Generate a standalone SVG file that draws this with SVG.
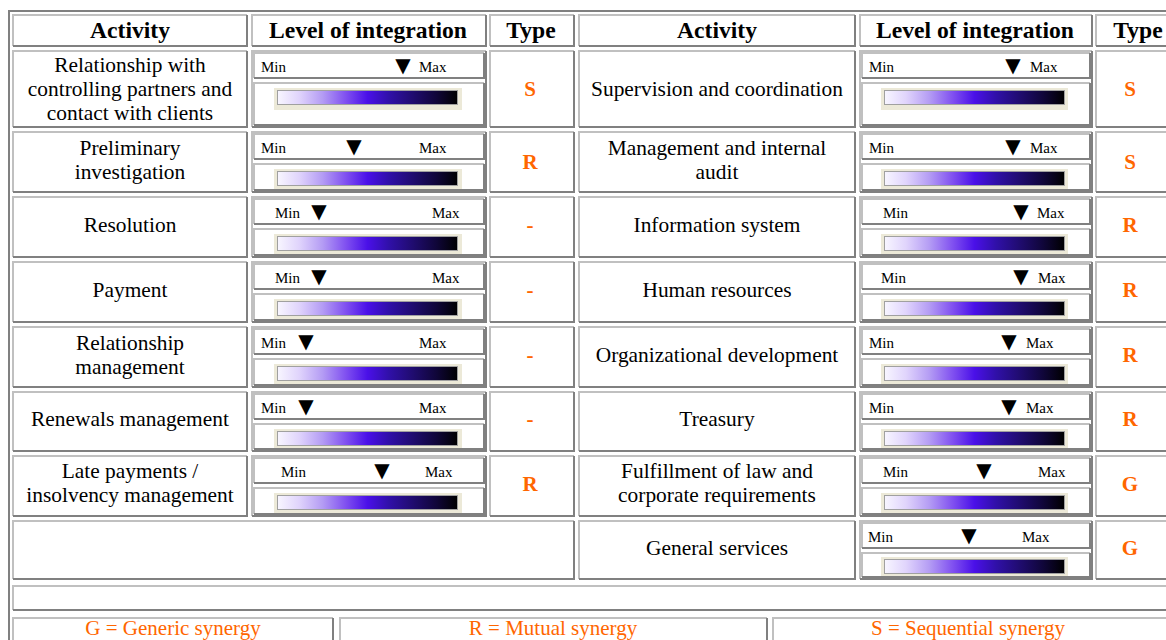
<svg xmlns="http://www.w3.org/2000/svg" width="1166" height="640" viewBox="0 0 1166 640">
<defs>
<linearGradient id="grad" x1="0" y1="0" x2="1" y2="0">
<stop offset="0" stop-color="#f8f6ff"/>
<stop offset="0.12" stop-color="#e0d4fc"/>
<stop offset="0.25" stop-color="#b49cf4"/>
<stop offset="0.38" stop-color="#8050f0"/>
<stop offset="0.5" stop-color="#4a10e8"/>
<stop offset="0.62" stop-color="#3010a8"/>
<stop offset="0.75" stop-color="#200c70"/>
<stop offset="0.88" stop-color="#10063a"/>
<stop offset="1" stop-color="#000000"/>
</linearGradient>
<style>
.lt{stroke:#c0c0c0;stroke-width:2;fill:none}
.dk{stroke:#808080;stroke-width:2;fill:none}
.h{font-family:"Liberation Serif",serif;font-weight:bold;font-size:23.6px;text-anchor:middle;fill:#000}
.a{font-family:"Liberation Serif",serif;font-size:21.4px;text-anchor:middle;fill:#000}
.m{font-family:"Liberation Serif",serif;font-size:15px;fill:#000}
.tri{font-family:"DejaVu Sans",sans-serif;font-size:20px;text-anchor:middle;fill:#000}
.t{font-family:"Liberation Serif",serif;font-weight:bold;font-size:21px;fill:#ff6600;text-anchor:middle}
.g{font-family:"Liberation Serif",serif;font-size:21px;fill:#ff6600;text-anchor:middle}
.fr{fill:#ece9d8}
.gb{fill:url(#grad);stroke:#a0a0a0;stroke-width:1}
</style>
</defs>
<rect width="1166" height="640" fill="#ffffff"/>
<g id="table-frame"><path class="dk" d="M9 640V11H1166"/></g>

<g id="header">
<g id="h1"><path class="lt" d="M13 46V15H247"/><path class="dk" d="M13 46H247V15"/><text class="h" x="130" y="38">Activity</text></g>
<g id="h2"><path class="lt" d="M252 46V15H486"/><path class="dk" d="M252 46H486V15"/><text class="h" x="368" y="38">Level of integration</text></g>
<g id="h3"><path class="lt" d="M490 46V15H574"/><path class="dk" d="M490 46H574V15"/><text class="h" x="531" y="38">Type</text></g>
<g id="h4"><path class="lt" d="M579 46V15H855"/><path class="dk" d="M579 46H855V15"/><text class="h" x="717" y="38">Activity</text></g>
<g id="h5"><path class="lt" d="M860 46V15H1092"/><path class="dk" d="M860 46H1092V15"/><text class="h" x="975" y="38">Level of integration</text></g>
<g id="h6"><path class="lt" d="M1096 46V15H1179"/><path class="dk" d="M1096 46H1179V15"/><text class="h" x="1138" y="38">Type</text></g>
</g>

<g id="connectors"></g>

<!-- Row 1 -->
<g id="l1">
<g id="l1-act"><path class="lt" d="M13 127V51H247"/><path class="dk" d="M13 127H247V51"/>
<text class="a" x="130" y="72">Relationship with</text><text class="a" x="130" y="96">controlling partners and</text><text class="a" x="130" y="120">contact with clients</text></g>
<g id="l1-lvl"><path class="lt" d="M252 127V51H486"/><path class="dk" d="M252 127H486V51"/>
<path class="lt" d="M254 78V53H484"/><path class="dk" d="M254 78H484V53"/>
<path class="lt" d="M254 125V83H484"/><path class="dk" d="M254 125H484V83"/>
<rect class="fr" x="274" y="88" width="188" height="22"/><rect class="gb" x="277.5" y="90.5" width="180" height="14"/>
<text class="m" x="261" y="72">Min</text><text class="tri" x="403" y="72">▼</text><text class="m" x="419" y="72">Max</text></g>
<g id="l1-type"><path class="lt" d="M490 127V51H574"/><path class="dk" d="M490 127H574V51"/><text class="t" x="530" y="96">S</text></g>
</g>
<g id="r1">
<g id="r1-act"><path class="lt" d="M579 127V51H855"/><path class="dk" d="M579 127H855V51"/><text class="a" x="717" y="96">Supervision and coordination</text></g>
<g id="r1-lvl"><path class="lt" d="M860 127V51H1092"/><path class="dk" d="M860 127H1092V51"/>
<path class="lt" d="M862 78V53H1090"/><path class="dk" d="M862 78H1090V53"/>
<path class="lt" d="M862 125V83H1090"/><path class="dk" d="M862 125H1090V83"/>
<rect class="fr" x="881" y="88" width="187" height="22"/><rect class="gb" x="884.5" y="90.5" width="180" height="14"/>
<text class="m" x="869" y="72">Min</text><text class="tri" x="1013" y="72">▼</text><text class="m" x="1030" y="72">Max</text></g>
<g id="r1-type"><path class="lt" d="M1096 127V51H1179"/><path class="dk" d="M1096 127H1179V51"/><text class="t" x="1130" y="96">S</text></g>
</g>

<!-- Row 2 T=131 B=193 -->
<g id="l2">
<g id="l2-act"><path class="lt" d="M13 192V132H247"/><path class="dk" d="M13 192H247V132"/>
<text class="a" x="130" y="155">Preliminary</text><text class="a" x="130" y="179">investigation</text></g>
<g id="l2-lvl"><path class="lt" d="M252 192V132H486"/><path class="dk" d="M252 192H486V132"/>
<path class="lt" d="M254 159V134H484"/><path class="dk" d="M254 159H484V134"/>
<path class="lt" d="M254 190V164H484"/><path class="dk" d="M254 190H484V164"/>
<rect class="fr" x="274" y="169" width="188" height="20"/><rect class="gb" x="277.5" y="171.5" width="180" height="14"/>
<text class="m" x="261" y="153">Min</text><text class="tri" x="354" y="153">▼</text><text class="m" x="419" y="153">Max</text></g>
<g id="l2-type"><path class="lt" d="M490 192V132H574"/><path class="dk" d="M490 192H574V132"/><text class="t" x="530" y="169">R</text></g>
</g>
<g id="r2">
<g id="r2-act"><path class="lt" d="M579 192V132H855"/><path class="dk" d="M579 192H855V132"/>
<text class="a" x="717" y="155">Management and internal</text><text class="a" x="717" y="179">audit</text></g>
<g id="r2-lvl"><path class="lt" d="M860 192V132H1092"/><path class="dk" d="M860 192H1092V132"/>
<path class="lt" d="M862 159V134H1090"/><path class="dk" d="M862 159H1090V134"/>
<path class="lt" d="M862 190V164H1090"/><path class="dk" d="M862 190H1090V164"/>
<rect class="fr" x="881" y="169" width="187" height="20"/><rect class="gb" x="884.5" y="171.5" width="180" height="14"/>
<text class="m" x="869" y="153">Min</text><text class="tri" x="1013" y="153">▼</text><text class="m" x="1030" y="153">Max</text></g>
<g id="r2-type"><path class="lt" d="M1096 192V132H1179"/><path class="dk" d="M1096 192H1179V132"/><text class="t" x="1130" y="169">S</text></g>
</g>

<!-- Row 3 T=196 B=258 -->
<g id="l3">
<g id="l3-act"><path class="lt" d="M13 257V197H247"/><path class="dk" d="M13 257H247V197"/><text class="a" x="130" y="232">Resolution</text></g>
<g id="l3-lvl"><path class="lt" d="M252 257V197H486"/><path class="dk" d="M252 257H486V197"/>
<path class="lt" d="M254 224V199H484"/><path class="dk" d="M254 224H484V199"/>
<path class="lt" d="M254 255V229H484"/><path class="dk" d="M254 255H484V229"/>
<rect class="fr" x="274" y="234" width="188" height="20"/><rect class="gb" x="277.5" y="236.5" width="180" height="14"/>
<text class="m" x="275" y="218">Min</text><text class="tri" x="319" y="218">▼</text><text class="m" x="432" y="218">Max</text></g>
<g id="l3-type"><path class="lt" d="M490 257V197H574"/><path class="dk" d="M490 257H574V197"/><text class="t" x="530" y="232">-</text></g>
</g>
<g id="r3">
<g id="r3-act"><path class="lt" d="M579 257V197H855"/><path class="dk" d="M579 257H855V197"/><text class="a" x="717" y="232">Information system</text></g>
<g id="r3-lvl"><path class="lt" d="M860 257V197H1092"/><path class="dk" d="M860 257H1092V197"/>
<path class="lt" d="M862 224V199H1090"/><path class="dk" d="M862 224H1090V199"/>
<path class="lt" d="M862 255V229H1090"/><path class="dk" d="M862 255H1090V229"/>
<rect class="fr" x="881" y="234" width="187" height="20"/><rect class="gb" x="884.5" y="236.5" width="180" height="14"/>
<text class="m" x="883" y="218">Min</text><text class="tri" x="1021" y="218">▼</text><text class="m" x="1037" y="218">Max</text></g>
<g id="r3-type"><path class="lt" d="M1096 257V197H1179"/><path class="dk" d="M1096 257H1179V197"/><text class="t" x="1130" y="232">R</text></g>
</g>

<!-- Row 4 T=261 B=323 -->
<g id="l4">
<g id="l4-act"><path class="lt" d="M13 322V262H247"/><path class="dk" d="M13 322H247V262"/><text class="a" x="130" y="297">Payment</text></g>
<g id="l4-lvl"><path class="lt" d="M252 322V262H486"/><path class="dk" d="M252 322H486V262"/>
<path class="lt" d="M254 289V264H484"/><path class="dk" d="M254 289H484V264"/>
<path class="lt" d="M254 320V294H484"/><path class="dk" d="M254 320H484V294"/>
<rect class="fr" x="274" y="299" width="188" height="20"/><rect class="gb" x="277.5" y="301.5" width="180" height="14"/>
<text class="m" x="275" y="283">Min</text><text class="tri" x="319" y="283">▼</text><text class="m" x="432" y="283">Max</text></g>
<g id="l4-type"><path class="lt" d="M490 322V262H574"/><path class="dk" d="M490 322H574V262"/><text class="t" x="530" y="297">-</text></g>
</g>
<g id="r4">
<g id="r4-act"><path class="lt" d="M579 322V262H855"/><path class="dk" d="M579 322H855V262"/><text class="a" x="717" y="297">Human resources</text></g>
<g id="r4-lvl"><path class="lt" d="M860 322V262H1092"/><path class="dk" d="M860 322H1092V262"/>
<path class="lt" d="M862 289V264H1090"/><path class="dk" d="M862 289H1090V264"/>
<path class="lt" d="M862 320V294H1090"/><path class="dk" d="M862 320H1090V294"/>
<rect class="fr" x="881" y="299" width="187" height="20"/><rect class="gb" x="884.5" y="301.5" width="180" height="14"/>
<text class="m" x="881" y="283">Min</text><text class="tri" x="1021" y="283">▼</text><text class="m" x="1038" y="283">Max</text></g>
<g id="r4-type"><path class="lt" d="M1096 322V262H1179"/><path class="dk" d="M1096 322H1179V262"/><text class="t" x="1130" y="297">R</text></g>
</g>

<!-- Row 5 T=326 B=388 -->
<g id="l5">
<g id="l5-act"><path class="lt" d="M13 387V327H247"/><path class="dk" d="M13 387H247V327"/>
<text class="a" x="130" y="350">Relationship</text><text class="a" x="130" y="374">management</text></g>
<g id="l5-lvl"><path class="lt" d="M252 387V327H486"/><path class="dk" d="M252 387H486V327"/>
<path class="lt" d="M254 354V329H484"/><path class="dk" d="M254 354H484V329"/>
<path class="lt" d="M254 385V359H484"/><path class="dk" d="M254 385H484V359"/>
<rect class="fr" x="274" y="364" width="188" height="20"/><rect class="gb" x="277.5" y="366.5" width="180" height="14"/>
<text class="m" x="261" y="348">Min</text><text class="tri" x="306" y="348">▼</text><text class="m" x="419" y="348">Max</text></g>
<g id="l5-type"><path class="lt" d="M490 387V327H574"/><path class="dk" d="M490 387H574V327"/><text class="t" x="530" y="362">-</text></g>
</g>
<g id="r5">
<g id="r5-act"><path class="lt" d="M579 387V327H855"/><path class="dk" d="M579 387H855V327"/><text class="a" x="717" y="362">Organizational development</text></g>
<g id="r5-lvl"><path class="lt" d="M860 387V327H1092"/><path class="dk" d="M860 387H1092V327"/>
<path class="lt" d="M862 354V329H1090"/><path class="dk" d="M862 354H1090V329"/>
<path class="lt" d="M862 385V359H1090"/><path class="dk" d="M862 385H1090V359"/>
<rect class="fr" x="881" y="364" width="187" height="20"/><rect class="gb" x="884.5" y="366.5" width="180" height="14"/>
<text class="m" x="869" y="348">Min</text><text class="tri" x="1009" y="348">▼</text><text class="m" x="1026" y="348">Max</text></g>
<g id="r5-type"><path class="lt" d="M1096 387V327H1179"/><path class="dk" d="M1096 387H1179V327"/><text class="t" x="1130" y="362">R</text></g>
</g>

<!-- Row 6 T=391 B=452 -->
<g id="l6">
<g id="l6-act"><path class="lt" d="M13 451V392H247"/><path class="dk" d="M13 451H247V392"/><text class="a" x="130" y="426">Renewals management</text></g>
<g id="l6-lvl"><path class="lt" d="M252 451V392H486"/><path class="dk" d="M252 451H486V392"/>
<path class="lt" d="M254 419V394H484"/><path class="dk" d="M254 419H484V394"/>
<path class="lt" d="M254 449V424H484"/><path class="dk" d="M254 449H484V424"/>
<rect class="fr" x="274" y="429" width="188" height="19"/><rect class="gb" x="277.5" y="431.5" width="180" height="14"/>
<text class="m" x="261" y="413">Min</text><text class="tri" x="306" y="413">▼</text><text class="m" x="419" y="413">Max</text></g>
<g id="l6-type"><path class="lt" d="M490 451V392H574"/><path class="dk" d="M490 451H574V392"/><text class="t" x="530" y="426">-</text></g>
</g>
<g id="r6">
<g id="r6-act"><path class="lt" d="M579 451V392H855"/><path class="dk" d="M579 451H855V392"/><text class="a" x="717" y="426">Treasury</text></g>
<g id="r6-lvl"><path class="lt" d="M860 451V392H1092"/><path class="dk" d="M860 451H1092V392"/>
<path class="lt" d="M862 419V394H1090"/><path class="dk" d="M862 419H1090V394"/>
<path class="lt" d="M862 449V424H1090"/><path class="dk" d="M862 449H1090V424"/>
<rect class="fr" x="881" y="429" width="187" height="19"/><rect class="gb" x="884.5" y="431.5" width="180" height="14"/>
<text class="m" x="869" y="413">Min</text><text class="tri" x="1009" y="413">▼</text><text class="m" x="1026" y="413">Max</text></g>
<g id="r6-type"><path class="lt" d="M1096 451V392H1179"/><path class="dk" d="M1096 451H1179V392"/><text class="t" x="1130" y="426">R</text></g>
</g>

<!-- Row 7 T=455 B=517 -->
<g id="l7">
<g id="l7-act"><path class="lt" d="M13 516V456H247"/><path class="dk" d="M13 516H247V456"/>
<text class="a" x="130" y="478">Late payments /</text><text class="a" x="130" y="502">insolvency management</text></g>
<g id="l7-lvl"><path class="lt" d="M252 516V456H486"/><path class="dk" d="M252 516H486V456"/>
<path class="lt" d="M254 483V458H484"/><path class="dk" d="M254 483H484V458"/>
<path class="lt" d="M254 514V488H484"/><path class="dk" d="M254 514H484V488"/>
<rect class="fr" x="274" y="493" width="188" height="20"/><rect class="gb" x="277.5" y="495.5" width="180" height="14"/>
<text class="m" x="281" y="477">Min</text><text class="tri" x="382" y="477">▼</text><text class="m" x="425" y="477">Max</text></g>
<g id="l7-type"><path class="lt" d="M490 516V456H574"/><path class="dk" d="M490 516H574V456"/><text class="t" x="530" y="491">R</text></g>
</g>
<g id="r7">
<g id="r7-act"><path class="lt" d="M579 516V456H855"/><path class="dk" d="M579 516H855V456"/>
<text class="a" x="717" y="478">Fulfillment of law and</text><text class="a" x="717" y="502">corporate requirements</text></g>
<g id="r7-lvl"><path class="lt" d="M860 516V456H1092"/><path class="dk" d="M860 516H1092V456"/>
<path class="lt" d="M862 483V458H1090"/><path class="dk" d="M862 483H1090V458"/>
<path class="lt" d="M862 514V488H1090"/><path class="dk" d="M862 514H1090V488"/>
<rect class="fr" x="881" y="493" width="187" height="20"/><rect class="gb" x="884.5" y="495.5" width="180" height="14"/>
<text class="m" x="883" y="477">Min</text><text class="tri" x="984" y="477">▼</text><text class="m" x="1038" y="477">Max</text></g>
<g id="r7-type"><path class="lt" d="M1096 516V456H1179"/><path class="dk" d="M1096 516H1179V456"/><text class="t" x="1130" y="491">G</text></g>
</g>

<!-- Row 8 T=520 B=580 -->
<g id="l8"><path class="lt" d="M13 579V521H574"/><path class="dk" d="M13 579H574V521"/></g>
<g id="r8">
<g id="r8-act"><path class="lt" d="M579 579V521H855"/><path class="dk" d="M579 579H855V521"/><text class="a" x="717" y="555">General services</text></g>
<g id="r8-lvl"><path class="lt" d="M860 579V521H1092"/><path class="dk" d="M860 579H1092V521"/>
<path class="lt" d="M862 548V523H1090"/><path class="dk" d="M862 548H1090V523"/>
<path class="lt" d="M862 577V553H1090"/><path class="dk" d="M862 577H1090V553"/>
<rect class="fr" x="881" y="557" width="187" height="19"/><rect class="gb" x="884.5" y="559.5" width="180" height="14"/>
<text class="m" x="868" y="542">Min</text><text class="tri" x="969" y="542">▼</text><text class="m" x="1022" y="542">Max</text></g>
<g id="r8-type"><path class="lt" d="M1096 579V521H1179"/><path class="dk" d="M1096 579H1179V521"/><text class="t" x="1130" y="555">G</text></g>
</g>

<g id="empty-row"><path class="lt" d="M13 610V586H1179"/><path class="dk" d="M13 610H1179V586"/></g>

<g id="legend">
<g id="leg-g"><path class="lt" d="M13 660V618H333"/><path class="dk" d="M13 660H333V618"/><text class="g" x="173" y="635">G = Generic synergy</text></g>
<g id="leg-r"><path class="lt" d="M340 660V618H767"/><path class="dk" d="M340 660H767V618"/><text class="g" x="553" y="635">R = Mutual synergy</text></g>
<g id="leg-s"><path class="lt" d="M773 660V618H1179"/><path class="dk" d="M773 660H1179V618"/><text class="g" x="968" y="635">S = Sequential synergy</text></g>
</g>
</svg>
